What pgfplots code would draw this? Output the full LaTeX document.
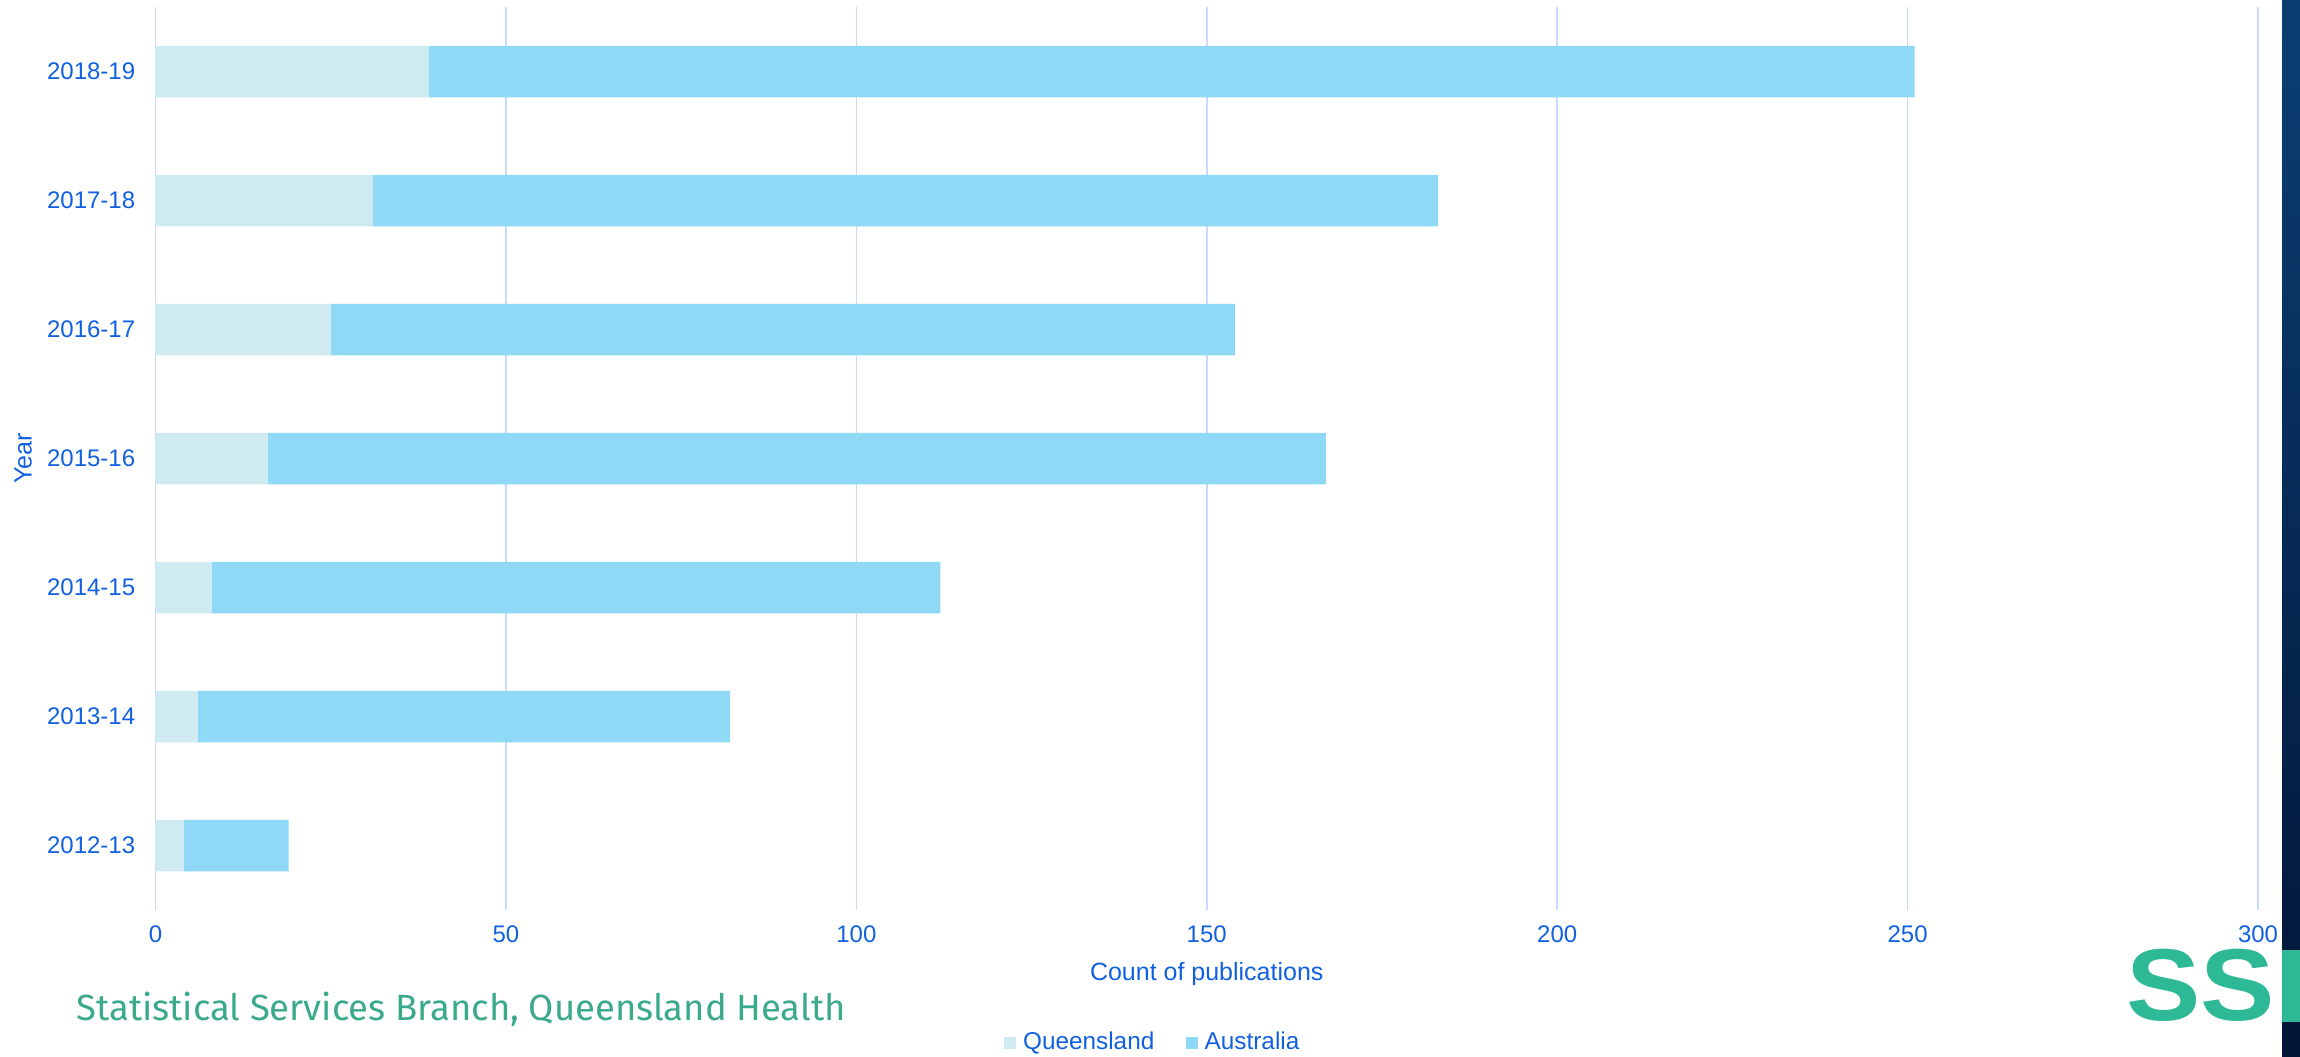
\documentclass[border=0pt]{standalone}
\usepackage{pgfplots}
\pgfplotsset{compat=1.18}
\usepackage{fontspec}
\setmainfont{Liberation Sans}
\newfontfamily\ssbfont{Fira Sans}
\definecolor{qld}{HTML}{CFEAF1}
\definecolor{aus}{HTML}{8FD8F6}
\definecolor{txtblue}{HTML}{1160E0}
\definecolor{gridblue}{HTML}{C6DBFF}
\definecolor{ssbgreen}{HTML}{3BAA8C}
\definecolor{logogreen}{HTML}{2DB996}
\definecolor{stripTop}{HTML}{0B3F74}
\definecolor{stripBot}{HTML}{021537}
\begin{document}
\begin{tikzpicture}
\useasboundingbox (-46.65pt,-43.8pt) rectangle (643.35pt,273pt);
\begin{axis}[
  at={(0pt,0pt)}, anchor=south west,
  scale only axis, width=630.75pt, height=270.9pt,
  xbar stacked, bar width=15.45pt,
  xmin=0, xmax=300, ymin=-0.5, ymax=6.5,
  xtick={0,50,...,300},
  ytick={0,...,6},
  yticklabels={2012-13,2013-14,2014-15,2015-16,2016-17,2017-18,2018-19},
  axis line style={draw=none},
  major tick length=0pt,
  xmajorgrids, grid style={gridblue, line width=0.5pt},
  /pgf/number format/assume math mode=true,
  tick label style={font=\fontsize{7.2}{8}\selectfont, text=txtblue, inner sep=0pt},
  xticklabel style={anchor=center, yshift=-7.2pt},
  yticklabel style={anchor=east, xshift=-5.9pt},
  xlabel={Count of publications}, ylabel={Year},
  label style={font=\fontsize{7.5}{9}\selectfont, text=txtblue, inner sep=0pt},
  xlabel style={at={(axis description cs:0.5,-0.0709)}, anchor=center},
  ylabel style={at={(axis description cs:-0.063,0.5)}, anchor=center},
  legend columns=2,
  legend style={at={(axis description cs:0.4755,-0.147)}, anchor=center,
    draw=none, fill=none, font=\fontsize{7.3}{8}\selectfont, text=txtblue,
    inner sep=0pt,
    /tikz/every even column/.append style={column sep=7.5pt}},
  legend cell align=left,
]
\addplot[fill=qld, draw=none,
  legend image code/.code={\fill[qld] (0pt,-1.8pt) rectangle (3.6pt,1.8pt);}]
  coordinates {(4,0) (6,1) (8,2) (16,3) (25,4) (31,5) (39,6)};
\addplot[fill=aus, draw=none,
  legend image code/.code={\fill[aus] (0pt,-1.8pt) rectangle (3.6pt,1.8pt);}]
  coordinates {(15,0) (76,1) (104,2) (151,3) (129,4) (152,5) (212,6)};
\legend{Queensland, Australia}
\end{axis}
% watermark and decorations
\node[anchor=west, inner sep=0pt, text=ssbgreen] at (-23.85pt,-29.7pt)
  {\resizebox{230.7pt}{!}{\ssbfont Statistical Services Branch, Queensland Health}};
\shade[top color=stripTop, bottom color=stripBot] (637.95pt,-43.8pt) rectangle (643.35pt,273pt);
\fill[logogreen] (637.95pt,-33.6pt) rectangle (643.35pt,-12pt);
\node[anchor=south west, inner sep=0pt, text=logogreen] at (591pt,-33.6pt)
  {\resizebox{44.6pt}{21.4pt}{\bfseries SS}};
\end{tikzpicture}
\end{document}
